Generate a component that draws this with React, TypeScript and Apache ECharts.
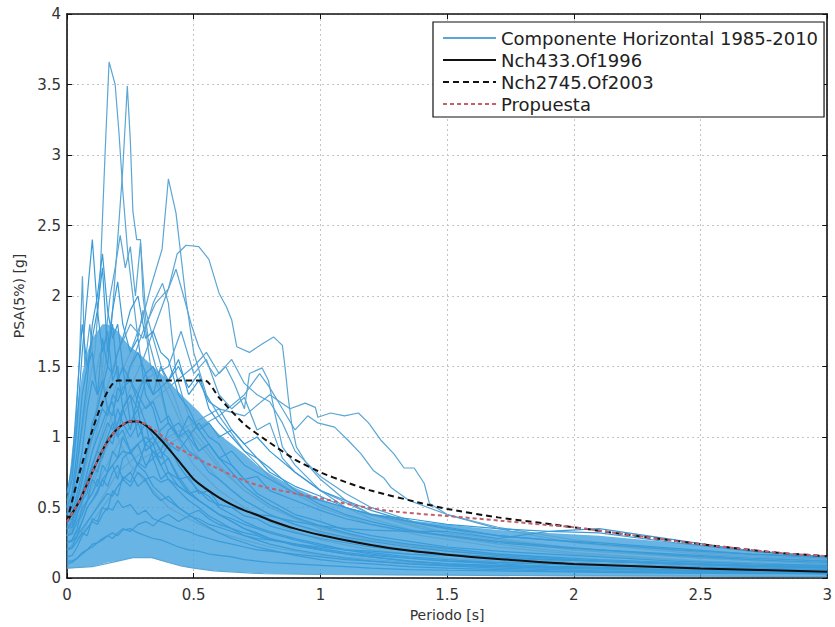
import React, { useEffect, useRef } from 'react';
import * as echarts from 'echarts';

// ---------- axes ----------
const xTicks = [0, 0.5, 1, 1.5, 2, 2.5, 3];
const yTicks = [0, 0.5, 1, 1.5, 2, 2.5, 3, 3.5, 4];

// ---------- shared period grid for the dense records ----------
const periods = [0, 0.02, 0.04, 0.06, 0.08, 0.1, 0.12, 0.14, 0.16, 0.18, 0.2, 0.22, 0.25, 0.28, 0.31, 0.34, 0.37, 0.4, 0.44, 0.48, 0.52, 0.56, 0.6, 0.65, 0.7, 0.75, 0.8, 0.9, 1.0, 1.1, 1.2, 1.35, 1.5, 1.7, 1.9, 2.1, 2.4, 2.7, 3.0];

// envelope of the densest part of the cloud of records
const denseLower = [0.07, 0.07, 0.075, 0.075, 0.08, 0.08, 0.09, 0.1, 0.11, 0.115, 0.12, 0.13, 0.14, 0.145, 0.145, 0.14, 0.125, 0.11, 0.09, 0.075, 0.065, 0.055, 0.05, 0.045, 0.04, 0.035, 0.03, 0.028, 0.025, 0.024, 0.022, 0.02, 0.02, 0.018, 0.016, 0.015, 0.013, 0.012, 0.01];
const denseUpper = [0.55, 0.9, 1.2, 1.45, 1.6, 1.7, 1.75, 1.8, 1.8, 1.78, 1.75, 1.7, 1.64, 1.6, 1.55, 1.5, 1.45, 1.4, 1.32, 1.25, 1.18, 1.1, 1.02, 0.95, 0.88, 0.8, 0.74, 0.64, 0.56, 0.5, 0.46, 0.41, 0.38, 0.34, 0.32, 0.3, 0.25, 0.2, 0.15];

// records on the shared grid
const rec01 = [0.55, 0.7, 1.1, 1.6, 2.0, 2.4, 1.9, 2.2, 1.6, 1.8, 1.4, 1.5, 1.1, 1.2, 0.9, 0.95, 0.8, 0.7, 0.62, 0.55, 0.5, 0.44, 0.4, 0.35, 0.3, 0.27, 0.24, 0.2, 0.17, 0.14, 0.12, 0.1, 0.085, 0.07, 0.06, 0.05, 0.04, 0.035, 0.03];
const rec02 = [0.45, 0.5, 0.7, 0.9, 1.2, 1.4, 1.3, 1.7, 1.5, 1.9, 2.1, 1.8, 1.6, 1.7, 1.3, 1.2, 1.0, 0.95, 0.8, 0.7, 0.62, 0.58, 0.5, 0.45, 0.4, 0.36, 0.33, 0.28, 0.24, 0.2, 0.17, 0.14, 0.12, 0.1, 0.085, 0.075, 0.06, 0.05, 0.045];
const rec03 = [0.35, 0.38, 0.5, 0.6, 0.75, 0.9, 1.0, 1.1, 1.2, 1.15, 1.35, 1.3, 1.5, 1.6, 1.45, 1.3, 1.35, 1.1, 1.0, 0.9, 0.85, 0.75, 0.7, 0.62, 0.55, 0.5, 0.45, 0.38, 0.33, 0.29, 0.26, 0.22, 0.19, 0.16, 0.14, 0.12, 0.1, 0.08, 0.07];
const rec04 = [0.3, 0.32, 0.45, 0.55, 0.6, 0.8, 0.75, 0.9, 1.0, 0.95, 1.1, 1.2, 1.05, 1.3, 1.2, 1.25, 1.1, 1.15, 1.0, 1.05, 0.9, 0.95, 0.85, 0.8, 0.7, 0.72, 0.62, 0.55, 0.48, 0.42, 0.38, 0.33, 0.3, 0.26, 0.23, 0.2, 0.17, 0.14, 0.12];
const rec05 = [0.25, 0.27, 0.35, 0.5, 0.55, 0.7, 0.65, 0.8, 0.75, 0.9, 0.85, 1.0, 0.9, 0.95, 0.8, 0.85, 0.7, 0.75, 0.65, 0.6, 0.55, 0.5, 0.45, 0.42, 0.38, 0.35, 0.32, 0.27, 0.23, 0.2, 0.18, 0.15, 0.13, 0.11, 0.1, 0.09, 0.075, 0.065, 0.055];
const rec06 = [0.2, 0.22, 0.3, 0.4, 0.5, 0.55, 0.6, 0.7, 0.65, 0.75, 0.8, 0.7, 0.75, 0.65, 0.7, 0.6, 0.55, 0.58, 0.5, 0.45, 0.48, 0.42, 0.38, 0.35, 0.32, 0.3, 0.27, 0.24, 0.21, 0.18, 0.16, 0.14, 0.12, 0.11, 0.1, 0.09, 0.08, 0.07, 0.06];
const rec07 = [0.15, 0.16, 0.22, 0.3, 0.35, 0.4, 0.38, 0.45, 0.5, 0.48, 0.55, 0.5, 0.52, 0.45, 0.48, 0.42, 0.4, 0.38, 0.35, 0.33, 0.3, 0.28, 0.26, 0.24, 0.22, 0.2, 0.19, 0.17, 0.15, 0.13, 0.12, 0.1, 0.09, 0.08, 0.07, 0.065, 0.055, 0.05, 0.045];
const rec08 = [0.1, 0.11, 0.14, 0.18, 0.2, 0.24, 0.25, 0.28, 0.3, 0.32, 0.3, 0.34, 0.35, 0.32, 0.3, 0.28, 0.27, 0.25, 0.22, 0.2, 0.19, 0.17, 0.16, 0.15, 0.13, 0.12, 0.11, 0.1, 0.09, 0.08, 0.07, 0.06, 0.055, 0.05, 0.045, 0.04, 0.035, 0.03, 0.03];
const rec09 = [0.4, 0.42, 0.5, 0.6, 0.7, 0.8, 0.9, 0.85, 1.0, 1.1, 1.0, 1.2, 1.3, 1.2, 1.4, 1.3, 1.5, 1.4, 1.5, 1.35, 1.45, 1.2, 1.1, 1.0, 0.9, 0.85, 0.75, 0.65, 0.58, 0.5, 0.45, 0.4, 0.36, 0.3, 0.27, 0.24, 0.2, 0.17, 0.15];
const rec10 = [0.5, 0.6, 0.9, 1.3, 1.5, 1.7, 1.9, 1.6, 1.75, 1.4, 1.5, 1.2, 1.3, 1.0, 1.1, 0.85, 0.9, 0.75, 0.7, 0.6, 0.55, 0.5, 0.45, 0.4, 0.35, 0.32, 0.28, 0.24, 0.2, 0.17, 0.15, 0.12, 0.1, 0.09, 0.08, 0.07, 0.055, 0.045, 0.04];
const rec11 = [0.3, 0.31, 0.4, 0.45, 0.55, 0.6, 0.7, 0.65, 0.75, 0.8, 0.7, 0.85, 0.9, 0.8, 0.95, 0.9, 0.85, 0.95, 0.9, 1.0, 0.9, 0.95, 0.85, 0.9, 0.8, 0.75, 0.7, 0.6, 0.55, 0.5, 0.45, 0.42, 0.38, 0.35, 0.33, 0.32, 0.25, 0.19, 0.15];
const rec12 = [0.35, 0.36, 0.45, 0.55, 0.7, 0.8, 0.9, 1.0, 1.1, 1.05, 1.2, 1.1, 1.0, 1.1, 0.95, 1.0, 0.9, 1.05, 1.1, 1.0, 1.1, 1.0, 0.95, 0.8, 0.7, 0.6, 0.55, 0.45, 0.4, 0.34, 0.3, 0.26, 0.22, 0.19, 0.17, 0.15, 0.12, 0.1, 0.09];
const rec13 = [0.2, 0.21, 0.26, 0.32, 0.3, 0.42, 0.4, 0.5, 0.48, 0.62, 0.58, 0.72, 0.68, 0.82, 0.78, 0.9, 0.8, 0.85, 0.7, 0.72, 0.6, 0.62, 0.52, 0.5, 0.44, 0.42, 0.37, 0.32, 0.28, 0.25, 0.22, 0.19, 0.17, 0.15, 0.13, 0.12, 0.1, 0.085, 0.075];
const rec14 = [0.6, 0.8, 1.3, 1.8, 1.5, 1.6, 1.3, 1.4, 1.2, 1.25, 1.0, 1.05, 0.9, 0.8, 0.75, 0.65, 0.6, 0.55, 0.5, 0.45, 0.4, 0.36, 0.32, 0.28, 0.25, 0.22, 0.2, 0.16, 0.13, 0.11, 0.1, 0.08, 0.07, 0.06, 0.05, 0.045, 0.04, 0.035, 0.03];
const rec15 = [0.12, 0.12, 0.14, 0.17, 0.2, 0.22, 0.25, 0.27, 0.3, 0.28, 0.32, 0.35, 0.33, 0.38, 0.4, 0.37, 0.42, 0.45, 0.4, 0.44, 0.42, 0.38, 0.36, 0.33, 0.3, 0.28, 0.27, 0.24, 0.22, 0.2, 0.19, 0.17, 0.16, 0.14, 0.13, 0.12, 0.1, 0.09, 0.08];
const rec16 = [0.25, 0.26, 0.3, 0.35, 0.4, 0.45, 0.5, 0.55, 0.6, 0.58, 0.65, 0.7, 0.65, 0.75, 0.7, 0.72, 0.68, 0.7, 0.65, 0.6, 0.62, 0.55, 0.52, 0.5, 0.48, 0.45, 0.44, 0.4, 0.37, 0.35, 0.34, 0.33, 0.33, 0.28, 0.33, 0.35, 0.27, 0.19, 0.15];
const rec17 = [0.4, 0.45, 0.6, 0.75, 0.9, 1.0, 1.1, 1.2, 1.15, 1.3, 1.25, 1.35, 1.4, 1.3, 1.45, 1.5, 1.35, 1.4, 1.55, 1.3, 1.4, 1.25, 1.2, 1.05, 0.95, 0.85, 0.78, 0.62, 0.52, 0.45, 0.4, 0.34, 0.3, 0.25, 0.22, 0.2, 0.16, 0.13, 0.11];
const rec18 = [0.35, 0.4, 0.55, 0.7, 0.9, 1.1, 1.2, 1.35, 1.5, 1.45, 1.6, 1.7, 1.9, 2.0, 1.7, 1.75, 1.6, 1.55, 1.3, 1.2, 1.05, 0.95, 0.85, 0.75, 0.65, 0.58, 0.52, 0.43, 0.37, 0.32, 0.28, 0.24, 0.21, 0.17, 0.15, 0.13, 0.11, 0.09, 0.08];
const rec19 = [0.45, 0.55, 0.8, 1.1, 1.4, 1.8, 2.0, 2.3, 1.9, 1.7, 1.8, 1.5, 1.4, 1.25, 1.1, 1.0, 0.9, 0.85, 0.72, 0.62, 0.55, 0.5, 0.45, 0.4, 0.35, 0.31, 0.28, 0.23, 0.2, 0.17, 0.15, 0.12, 0.1, 0.085, 0.075, 0.065, 0.05, 0.04, 0.035];
const rec20 = [0.25, 0.27, 0.33, 0.4, 0.5, 0.55, 0.62, 0.7, 0.75, 0.8, 0.85, 0.9, 0.88, 0.95, 1.0, 0.95, 1.05, 1.1, 1.0, 1.15, 1.05, 1.1, 1.0, 1.05, 0.95, 1.0, 0.9, 0.75, 0.62, 0.55, 0.48, 0.4, 0.35, 0.3, 0.27, 0.25, 0.21, 0.17, 0.14];
const gridRecords = [rec01, rec02, rec03, rec04, rec05, rec06, rec07, rec08, rec09, rec10, rec11, rec12, rec13, rec14, rec15, rec16, rec17, rec18, rec19, rec20];

// individual records read as (period, PSA) pairs
const recA = [[0, 0.45], [0.04, 0.8], [0.08, 1.3], [0.11, 1.6], [0.13, 2.1], [0.15, 3.0], [0.166, 3.66], [0.19, 3.5], [0.205, 3.16], [0.22, 2.75], [0.24, 2.3], [0.26, 2.0], [0.28, 1.7], [0.3, 1.9], [0.33, 1.5], [0.37, 1.3], [0.4, 1.1], [0.45, 0.95], [0.5, 0.8], [0.6, 0.62], [0.7, 0.5], [0.8, 0.4], [0.9, 0.33], [1.0, 0.27], [1.2, 0.2], [1.5, 0.14], [2.0, 0.09], [2.5, 0.06], [3.0, 0.045]];
const recB = [[0, 0.4], [0.05, 0.6], [0.1, 1.0], [0.15, 1.5], [0.18, 1.9], [0.2, 2.4], [0.22, 2.9], [0.238, 3.49], [0.25, 3.1], [0.26, 2.6], [0.275, 2.4], [0.29, 2.4], [0.3, 2.0], [0.32, 1.7], [0.35, 1.5], [0.4, 1.3], [0.45, 1.1], [0.5, 0.9], [0.6, 0.7], [0.7, 0.55], [0.8, 0.45], [0.9, 0.38], [1.0, 0.32], [1.2, 0.24], [1.5, 0.17], [2.0, 0.11], [2.5, 0.08], [3.0, 0.06]];
const recC = [[0, 0.3], [0.05, 0.45], [0.1, 0.8], [0.15, 1.1], [0.2, 1.4], [0.25, 1.6], [0.3, 1.85], [0.33, 2.06], [0.375, 2.33], [0.4, 2.83], [0.43, 2.59], [0.47, 1.97], [0.5, 1.6], [0.55, 1.3], [0.6, 1.15], [0.7, 0.9], [0.8, 0.72], [0.9, 0.6], [1.0, 0.5], [1.2, 0.38], [1.4, 0.3], [1.7, 0.22], [2.0, 0.17], [2.5, 0.12], [3.0, 0.09]];
const recD = [[0, 0.3], [0.05, 0.4], [0.1, 0.65], [0.15, 0.9], [0.2, 1.1], [0.25, 1.35], [0.3, 1.55], [0.35, 1.8], [0.4, 2.05], [0.435, 2.3], [0.47, 2.36], [0.52, 2.35], [0.56, 2.26], [0.6, 2.02], [0.63, 1.92], [0.65, 1.83], [0.67, 1.64], [0.72, 1.6], [0.77, 1.66], [0.815, 1.71], [0.85, 1.65], [0.86, 1.5], [0.873, 1.28], [0.886, 1.1], [0.905, 0.93], [0.95, 0.8], [1.0, 0.7], [1.1, 0.55], [1.2, 0.45], [1.4, 0.35], [1.6, 0.28], [2.0, 0.2], [2.5, 0.14], [3.0, 0.1]];
const recE = [[0, 0.35], [0.05, 0.5], [0.1, 0.75], [0.15, 1.0], [0.2, 1.3], [0.25, 1.5], [0.3, 1.75], [0.35, 1.95], [0.4, 2.05], [0.43, 2.19], [0.46, 2.0], [0.49, 1.8], [0.52, 1.64], [0.56, 1.5], [0.586, 1.43], [0.626, 1.5], [0.66, 1.38], [0.7, 1.2], [0.72, 1.45], [0.77, 1.49], [0.795, 1.4], [0.82, 1.17], [0.85, 0.93], [0.9, 0.8], [1.0, 0.62], [1.1, 0.5], [1.2, 0.42], [1.4, 0.32], [1.7, 0.24], [2.0, 0.18], [2.5, 0.12], [3.0, 0.08]];
const recF = [[0, 0.25], [0.05, 0.3], [0.1, 0.45], [0.15, 0.6], [0.2, 0.75], [0.3, 0.9], [0.4, 1.0], [0.5, 1.1], [0.6, 1.2], [0.7, 1.15], [0.8, 1.3], [0.88, 1.2], [0.94, 1.24], [0.98, 1.21], [0.99, 1.14], [1.04, 1.17], [1.095, 1.15], [1.15, 1.17], [1.19, 1.1], [1.24, 0.975], [1.29, 0.88], [1.33, 0.78], [1.37, 0.78], [1.41, 0.67], [1.43, 0.53], [1.5, 0.45], [1.7, 0.35], [2.0, 0.25], [2.5, 0.17], [3.0, 0.12]];
const recG = [[0, 0.2], [0.1, 0.4], [0.2, 0.65], [0.3, 0.85], [0.4, 0.95], [0.5, 1.05], [0.6, 1.15], [0.7, 1.3], [0.76, 1.45], [0.8, 1.35], [0.85, 1.2], [0.9, 1.05], [0.95, 1.15], [0.99, 1.1], [1.056, 1.07], [1.11, 0.975], [1.16, 0.88], [1.21, 0.76], [1.25, 0.71], [1.28, 0.64], [1.35, 0.55], [1.5, 0.45], [1.7, 0.36], [2.0, 0.27], [2.5, 0.18], [3.0, 0.13]];
const recH = [[0, 0.5], [0.03, 0.9], [0.05, 1.6], [0.061, 2.14], [0.07, 1.5], [0.09, 1.8], [0.11, 1.4], [0.13, 1.6], [0.16, 1.2], [0.2, 1.0], [0.25, 0.8], [0.3, 0.7], [0.4, 0.5], [0.5, 0.4], [0.6, 0.32], [0.8, 0.22], [1.0, 0.16], [1.5, 0.09], [2.0, 0.06], [3.0, 0.03]];
const recI = [[0, 0.4], [0.05, 0.6], [0.1, 1.0], [0.14, 1.5], [0.17, 2.0], [0.19, 2.2], [0.21, 2.43], [0.23, 2.2], [0.25, 2.35], [0.27, 2.0], [0.29, 2.38], [0.31, 1.9], [0.34, 1.7], [0.38, 1.45], [0.42, 1.3], [0.46, 1.1], [0.5, 1.0], [0.6, 0.78], [0.7, 0.62], [0.8, 0.5], [0.9, 0.42], [1.0, 0.36], [1.2, 0.27], [1.5, 0.19], [2.0, 0.13], [2.5, 0.09], [3.0, 0.07]];
const recJ = [[0, 0.3], [0.1, 0.6], [0.2, 0.95], [0.3, 1.2], [0.4, 1.35], [0.5, 1.5], [0.55, 1.6], [0.6, 1.45], [0.65, 1.55], [0.7, 1.38], [0.75, 1.3], [0.8, 1.25], [0.85, 1.1], [0.9, 0.9], [1.0, 0.72], [1.1, 0.6], [1.2, 0.5], [1.4, 0.38], [1.7, 0.28], [2.0, 0.21], [2.5, 0.15], [3.0, 0.1]];
const recK = [[0, 0.35], [0.1, 0.7], [0.2, 1.1], [0.3, 1.4], [0.4, 1.5], [0.45, 1.75], [0.5, 1.45], [0.55, 1.55], [0.6, 1.3], [0.65, 1.2], [0.7, 1.28], [0.75, 1.05], [0.8, 1.1], [0.85, 0.85], [0.9, 0.75], [1.0, 0.62], [1.2, 0.45], [1.5, 0.32], [2.0, 0.2], [2.5, 0.14], [3.0, 0.1]];
const recL = [[0, 0.4], [0.05, 0.55], [0.1, 0.9], [0.15, 1.3], [0.2, 1.6], [0.25, 1.8], [0.3, 1.7], [0.34, 1.95], [0.377, 2.09], [0.4, 1.95], [0.43, 1.45], [0.47, 1.2], [0.5, 1.05], [0.6, 0.8], [0.7, 0.62], [0.8, 0.5], [1.0, 0.35], [1.2, 0.27], [1.5, 0.2], [2.0, 0.13], [3.0, 0.07]];
const recLow = [[0, 0.07], [0.1, 0.08], [0.2, 0.12], [0.26, 0.145], [0.335, 0.145], [0.4, 0.11], [0.45, 0.085], [0.5, 0.07], [0.58, 0.05], [0.78, 0.03], [1.0, 0.025], [1.5, 0.02], [2.0, 0.015], [3.0, 0.01]];
const pairRecords = [recA, recB, recC, recD, recE, recF, recG, recH, recI, recJ, recK, recL, recLow];

// design spectra
const nch433 = [[0, 0.4], [0.05, 0.55], [0.1, 0.75], [0.15, 0.94], [0.2, 1.06], [0.25, 1.11], [0.28, 1.11], [0.32, 1.07], [0.36, 1.0], [0.4, 0.92], [0.45, 0.81], [0.5, 0.7], [0.55, 0.63], [0.6, 0.57], [0.65, 0.52], [0.7, 0.48], [0.76, 0.44], [0.8, 0.41], [0.9, 0.35], [1.0, 0.305], [1.15, 0.25], [1.3, 0.205], [1.5, 0.165], [1.7, 0.135], [2.0, 0.1], [2.5, 0.068], [3.0, 0.045]];
const nch2745 = [[0, 0.4], [0.2, 1.4], [0.545, 1.4], [0.6, 1.28], [0.7, 1.09], [0.8, 0.96], [0.9, 0.84], [1.0, 0.75], [1.1, 0.68], [1.2, 0.62], [1.4, 0.53], [1.5, 0.49], [1.7, 0.43], [2.0, 0.36], [2.2, 0.31], [2.5, 0.24], [2.8, 0.18], [3.0, 0.155]];
const propuesta = [[0, 0.4], [0.05, 0.55], [0.1, 0.75], [0.15, 0.94], [0.2, 1.06], [0.25, 1.11], [0.28, 1.11], [0.32, 1.08], [0.36, 1.03], [0.4, 0.97], [0.5, 0.86], [0.585, 0.785], [0.7, 0.69], [0.78, 0.645], [0.9, 0.6], [1.0, 0.565], [1.15, 0.51], [1.3, 0.47], [1.5, 0.44], [1.72, 0.405], [1.9, 0.375], [2.0, 0.36], [2.2, 0.31], [2.5, 0.24], [2.8, 0.18], [3.0, 0.155]];

const names = ['Componente Horizontal 1985-2010', 'Nch433.Of1996', 'Nch2745.Of2003', 'Propuesta'];

const FONT = 'DejaVu Sans';

export default function App() {
  const ref = useRef<HTMLDivElement>(null);
  useEffect(() => {
    const chart = echarts.init(ref.current as HTMLDivElement, null, { renderer: 'svg' });
    const zip = (vals: number[]) => vals.map((v, i) => [periods[i], v]);
    const recName = names[0];
    const blueSeries: any[] = [];
    pairRecords.forEach((d) => {
      blueSeries.push({
        type: 'line', name: recName, data: d, symbol: 'none', silent: true,
        lineStyle: { color: '#5aa6d4', width: 1.2 }, itemStyle: { color: '#8cc2e6' }, z: 3,
      });
    });
    gridRecords.forEach((vals) => {
      blueSeries.push({
        type: 'line', name: recName, data: zip(vals), symbol: 'none', silent: true,
        lineStyle: { color: '#3a9bd9', width: 1.2 }, itemStyle: { color: '#8cc2e6' }, z: 3,
      });
    });
    const option: any = {
      animation: false,
      backgroundColor: '#ffffff',
      grid: { left: 67, right: 2, top: 14, bottom: 49, containLabel: false },
      legend: {
        data: names.map((n) => ({ name: n })),
        orient: 'vertical', left: 433, top: 22,
        backgroundColor: '#ffffff', borderColor: '#111', borderWidth: 1.2, borderRadius: 0,
        padding: [7, 6, 4, 9], itemGap: 4, itemWidth: 53, itemHeight: 14,
        itemStyle: { opacity: 0 },
        textStyle: { fontFamily: FONT, fontSize: 18, color: '#222' },
        selectedMode: false,
      },
      xAxis: [
        {
          type: 'value', min: 0, max: 3, interval: 0.5, position: 'bottom',
          name: 'Periodo [s]', nameLocation: 'middle', nameGap: 30,
          nameTextStyle: { fontFamily: FONT, fontSize: 14, color: '#333' },
          axisLine: { show: true, onZero: false, lineStyle: { color: '#111', width: 1.6 } },
          axisTick: { show: true, inside: true, length: 5, lineStyle: { color: '#111' } },
          axisLabel: { fontFamily: FONT, fontSize: 15, color: '#333', margin: 9, formatter: (v: number) => (xTicks.includes(v) ? String(v) : '') },
          splitLine: { show: true, lineStyle: { color: '#c4c4c4', type: [2, 3], width: 1 } },
        },
        {
          type: 'value', min: 0, max: 3, interval: 0.5, position: 'top',
          axisLine: { show: true, onZero: false, lineStyle: { color: '#111', width: 1.6 } },
          axisTick: { show: true, inside: true, length: 5, lineStyle: { color: '#111' } },
          axisLabel: { show: false }, splitLine: { show: false },
        },
      ],
      yAxis: [
        {
          type: 'value', min: 0, max: 4, interval: 0.5, position: 'left',
          name: 'PSA(5%) [g]', nameLocation: 'middle', nameGap: 40, nameRotate: 90,
          nameTextStyle: { fontFamily: FONT, fontSize: 14, color: '#333' },
          axisLine: { show: true, onZero: false, lineStyle: { color: '#111', width: 1.6 } },
          axisTick: { show: true, inside: true, length: 5, lineStyle: { color: '#111' } },
          axisLabel: { fontFamily: FONT, fontSize: 15, color: '#333', margin: 6, formatter: (v: number) => (yTicks.includes(v) ? String(v) : '') },
          splitLine: { show: true, lineStyle: { color: '#c4c4c4', type: [2, 3], width: 1 } },
        },
        {
          type: 'value', min: 0, max: 4, interval: 0.5, position: 'right',
          axisLine: { show: true, onZero: false, lineStyle: { color: '#111', width: 1.6 } },
          axisTick: { show: true, inside: true, length: 5, lineStyle: { color: '#111' } },
          axisLabel: { show: false }, splitLine: { show: false },
        },
      ],
      series: [
        {
          type: 'custom', name: '_dense', silent: true, z: 2, clip: true,
          data: [[0, 0]],
          renderItem: (_params: any, api: any) => {
            const pts: number[][] = [];
            periods.forEach((p, i) => pts.push(api.coord([p, denseUpper[i]])));
            for (let i = periods.length - 1; i >= 0; i--) pts.push(api.coord([periods[i], denseLower[i]]));
            return { type: 'polygon', shape: { points: pts }, style: { fill: '#3e9fdc', opacity: 0.78 } };
          },
        },
        ...blueSeries,
        {
          type: 'line', name: names[1], data: nch433, symbol: 'none', silent: true, smooth: 0.25,
          lineStyle: { color: '#111', width: 2 }, itemStyle: { color: '#111' }, z: 5,
        },
        {
          type: 'line', name: names[2], data: nch2745, symbol: 'none', silent: true, smooth: 0.2,
          lineStyle: { color: '#111', width: 2, type: [6, 4] }, itemStyle: { color: '#111' }, z: 6,
        },
        {
          type: 'line', name: names[3], data: propuesta, symbol: 'none', silent: true, smooth: 0.3,
          lineStyle: { color: '#c2606c', width: 2, type: [4, 3] }, itemStyle: { color: '#c2606c' }, z: 7,
        },
      ],
    };
    chart.setOption(option);
    return () => chart.dispose();
  }, []);
  return (
    <div
      ref={ref}
      style={{ position: 'fixed', left: 0, top: 0, width: 835, height: 627, background: '#fff' }}
    />
  );
}
